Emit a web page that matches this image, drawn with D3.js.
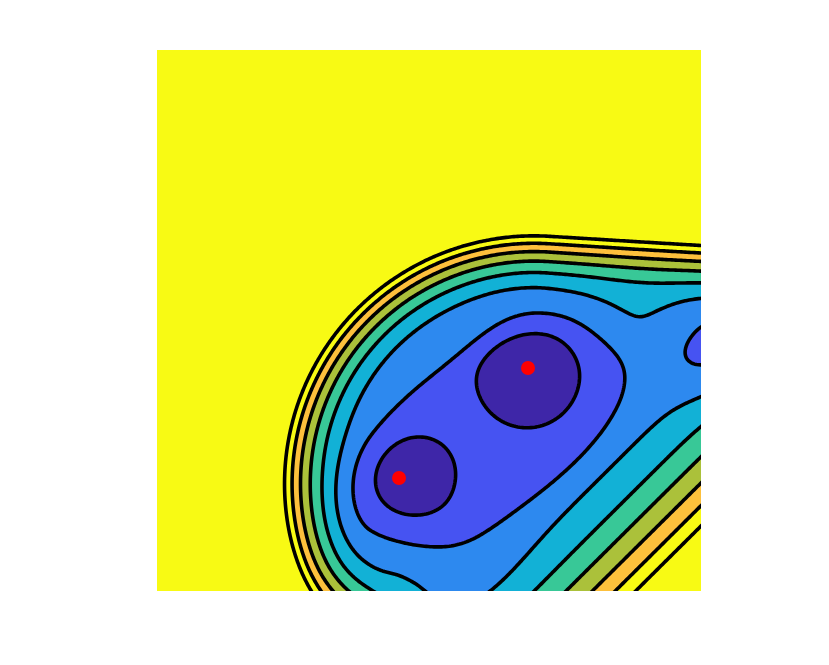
<!DOCTYPE html>
<html>
<head>
<meta charset="utf-8">
<script src="https://cdn.jsdelivr.net/npm/d3@7"></script>
<style>
  html, body { margin: 0; padding: 0; background: #ffffff; }
  svg { display: block; }
</style>
</head>
<body>
<div id="chart"></div>
<script>
// ---------------- data ----------------
const contourLevels = [1, 2, 3, 4, 5, 6, 7, 8];
const bandColors = ["#3e26a8", "#4653f2", "#2d89ef", "#12b1d6", "#38c897", "#abc13a", "#fdc03c", "#f8fa14", "#f8fa14"];

// marked points (red dots)
const pointX = [4.449, 6.820];
const pointY = [2.089, 4.122];

// wells of the surface (shape 0 = gaussian, k>0 = flat-topped of order k)
const wellX = [6.079, 4.700, 6.792, 10.239, 7.040, 5.478];
const wellY = [2.911, 2.140, 3.937, 4.418, 4.547, 0.980];
const wellDepth = [1.0, 2.31, 1.55, 1.0, 0.35, 0.36];
const wellSpreadAlong = [2.960, 0.440, 0.590, 0.590, 0.737, 0.740];
const wellSpreadAcross = [1.519, 0.385, 0.590, 0.590, 0.737, 0.740];
const wellAngle = [33.3, 35, 0, 0, 0, 0];
const wellShape = [8, 0, 0, 0, 0, 0];

// bumps of the surface
const bumpX = [4.099, 8.879];
const bumpY = [-0.536, 5.083];
const bumpHeight = [1.53, 0.55];
const bumpSpreadX = [0.790, 0.735];
const bumpSpreadY = [0.628, 0.462];

// ridge (upper-left wall) and lower-right wall
const ridgeX = [6.930, 15.496];
const ridgeY = [1.978, 1.460];
const ridgeStart = 3.134;
const ridgeScale = 0.619;
const wallOffset = 4.866;
const wallScale = 1.677;
const floorLevel = 2.5;

const xDomain = [0, 10];
const yDomain = [0, 10];

// ---------------- layout ----------------
const W = 829, H = 665;
const plot = { left: 157, top: 50, width: 544, height: 541 };

const x = d3.scaleLinear().domain(xDomain).range([plot.left, plot.left + plot.width]);
const y = d3.scaleLinear().domain(yDomain).range([plot.top + plot.height, plot.top]);

function segDist(px, py, ax, ay, bx, by) {
  const dx = bx - ax, dy = by - ay;
  let t = ((px - ax) * dx + (py - ay) * dy) / (dx * dx + dy * dy);
  t = Math.max(0, Math.min(1, t));
  const qx = ax + t * dx - px, qy = ay + t * dy - py;
  return Math.sqrt(qx * qx + qy * qy);
}

function surface(u, v) {
  let f = floorLevel;
  const d = segDist(u, v, ridgeX[0], ridgeY[0], ridgeX[1], ridgeY[1]);
  const r = Math.max(0, d - ridgeStart) / ridgeScale;
  f += r * r;
  const s = Math.max(0, u - v - wallOffset) / wallScale;
  f += s * s;
  for (let i = 0; i < bumpX.length; i++) {
    const dx = (u - bumpX[i]) / bumpSpreadX[i], dy = (v - bumpY[i]) / bumpSpreadY[i];
    f += bumpHeight[i] * Math.exp(-(dx * dx + dy * dy) / 2);
  }
  for (let i = 0; i < wellX.length; i++) {
    const a = wellAngle[i] * Math.PI / 180;
    const dx = u - wellX[i], dy = v - wellY[i];
    const al = (dx * Math.cos(a) + dy * Math.sin(a)) / wellSpreadAlong[i];
    const ac = (-dx * Math.sin(a) + dy * Math.cos(a)) / wellSpreadAcross[i];
    const rho2 = al * al + ac * ac;
    const k = wellShape[i];
    const e = k === 0 ? rho2 / 2 : Math.pow(rho2, k / 2);
    f -= wellDepth[i] * Math.exp(-e);
  }
  return f;
}

// grid
const step = 0.035;
const uMin = xDomain[0] - 0.3, vTop = yDomain[1] + 0.3;
const n = Math.ceil((xDomain[1] - xDomain[0] + 0.6) / step) + 1;
const m = Math.ceil((yDomain[1] - yDomain[0] + 0.6) / step) + 1;
const values = new Float64Array(n * m);
for (let j = 0; j < m; j++) {
  const v = vTop - j * step;
  for (let i = 0; i < n; i++) {
    values[i + j * n] = surface(uMin + i * step, v);
  }
}

const contours = d3.contours().size([n, m]).thresholds(contourLevels)(values);

const proj = d3.geoTransform({
  point: function (px, py) {
    this.stream.point(x(uMin + (px - 0.5) * step), y(vTop - (py - 0.5) * step));
  }
});
const path = d3.geoPath(proj);

const svg = d3.select("#chart").append("svg").attr("width", W).attr("height", H);
svg.append("defs").append("clipPath").attr("id", "plotclip")
  .append("rect").attr("x", plot.left).attr("y", plot.top).attr("width", plot.width).attr("height", plot.height);

const g = svg.append("g").attr("clip-path", "url(#plotclip)");
g.append("rect").attr("x", plot.left).attr("y", plot.top).attr("width", plot.width).attr("height", plot.height)
  .attr("fill", bandColors[0]);

g.selectAll("path.band").data(contours).join("path")
  .attr("class", "band")
  .attr("d", path)
  .attr("fill", (dd, i) => bandColors[i + 1])
  .attr("stroke", "none");

g.selectAll("path.line").data(contours).join("path")
  .attr("class", "line")
  .attr("d", path)
  .attr("fill", "none")
  .attr("stroke", "#000")
  .attr("stroke-width", 3.6)
  .attr("stroke-linejoin", "round");

svg.selectAll("circle.pt").data(pointX.map((px, i) => [px, pointY[i]])).join("circle")
  .attr("class", "pt")
  .attr("cx", dd => x(dd[0]))
  .attr("cy", dd => y(dd[1]))
  .attr("r", 7)
  .attr("fill", "#ff0000");
</script>
</body>
</html>
